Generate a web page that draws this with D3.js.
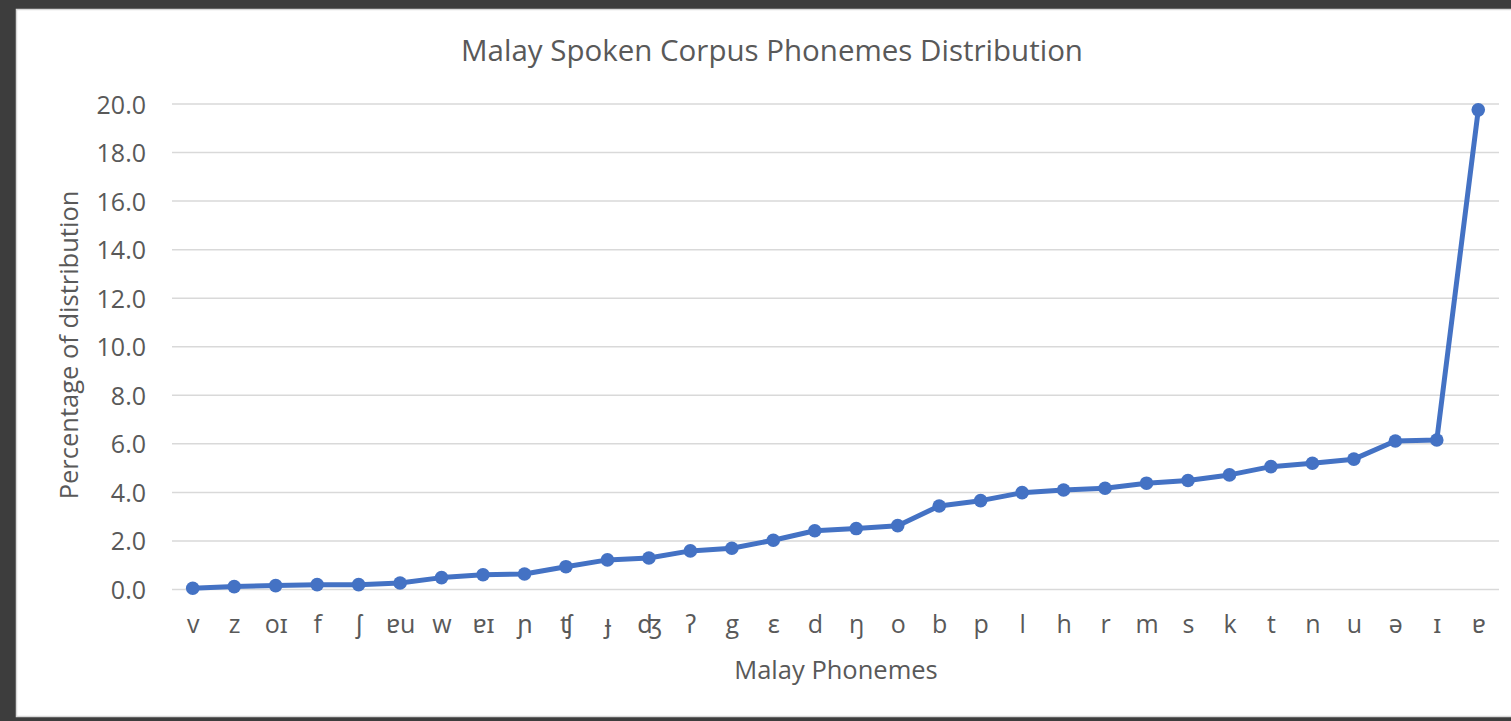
<!DOCTYPE html>
<html>
<head>
<meta charset="utf-8">
<script src="https://cdn.jsdelivr.net/npm/d3@7"></script>
<style>
  body { margin: 0; background: #3d3d3d; }
  svg { display: block; }
  .axis text { font-family: 'Open Sans', 'Noto Sans', sans-serif; fill: #595959; }
</style>
</head>
<body>
<div id="chart"></div>
<script>
/* chart data */
const phonemes = ['v', 'z', 'oɪ', 'f', 'ʃ', 'ɐu', 'w', 'ɐɪ', 'ɲ', 'ʧ', 'ɟ', 'ʤ', 'ʔ', 'g', 'ɛ', 'd', 'ŋ', 'o', 'b', 'p', 'l', 'h', 'r', 'm', 's', 'k', 't', 'n', 'u', 'ə', 'ɪ', 'ɐ']
const percentages = [0.05, 0.12, 0.16, 0.2, 0.2, 0.27, 0.49, 0.61, 0.64, 0.94, 1.22, 1.3, 1.59, 1.7, 2.03, 2.42, 2.51, 2.63, 3.44, 3.66, 3.99, 4.1, 4.17, 4.38, 4.49, 4.72, 5.06, 5.2, 5.37, 6.12, 6.16, 19.76]
const yTicks = [0, 2, 4, 6, 8, 10, 12, 14, 16, 18, 20]

/* labels */
const chartTitle = 'Malay Spoken Corpus Phonemes Distribution'
const xTitle = 'Malay Phonemes'
const yTitle = 'Percentage of distribution'

/* dimensions */
const W = 1511
const H = 721
const plot = { left: 172, right: 1499, top: 104, bottom: 589.5 }
const lineColor = '#4472c4'
const gridColor = '#d9d9d9'
const fontFam = "'Open Sans', 'Noto Sans', sans-serif"

const data = phonemes.map((p, i) => ({ p, v: percentages[i] }))

const svg = d3.select('#chart')
  .append('svg')
  .attr('width', W)
  .attr('height', H)

/* white chart area with thin border */
svg.append('rect')
  .attr('x', 16.5)
  .attr('y', 9.5)
  .attr('width', W)
  .attr('height', 707)
  .attr('fill', '#fff')
  .attr('stroke', gridColor)
  .attr('stroke-width', 1.5)

/* scales */
const xScale = d3.scalePoint()
  .domain(phonemes)
  .range([plot.left, plot.right])
  .padding(0.5)

const yScale = d3.scaleLinear()
  .domain([0, 20])
  .range([plot.bottom, plot.top])

/* gridlines */
svg.append('g')
  .selectAll('line')
  .data(yTicks)
  .join('line')
  .attr('x1', plot.left)
  .attr('x2', plot.right)
  .attr('y1', (d) => yScale(d))
  .attr('y2', (d) => yScale(d))
  .attr('stroke', gridColor)
  .attr('stroke-width', 1.5)

/* y axis */
svg.append('g')
  .attr('class', 'axis')
  .attr('transform', `translate(${plot.left - 26}, 0)`)
  .call(d3.axisLeft(yScale).tickValues(yTicks).tickFormat(d3.format('.1f')).tickSize(0).tickPadding(0))
  .call((g) => g.select('.domain').remove())
  .selectAll('text')
  .style('font-size', '25px')
  .attr('dy', '0.36em')

/* x axis */
svg.append('g')
  .attr('class', 'axis')
  .attr('transform', `translate(0, ${plot.bottom + 21})`)
  .call(d3.axisBottom(xScale).tickSize(0).tickPadding(0))
  .call((g) => g.select('.domain').remove())
  .selectAll('text')
  .style('font-size', '25px')
  .attr('dy', '0.9em')

/* line + markers */
const line = d3.line()
  .x((d) => xScale(d.p))
  .y((d) => yScale(d.v))

svg.append('path')
  .datum(data)
  .attr('d', line)
  .attr('fill', 'none')
  .attr('stroke', lineColor)
  .attr('stroke-width', 5)
  .attr('stroke-linejoin', 'round')

svg.append('g')
  .selectAll('circle')
  .data(data)
  .join('circle')
  .attr('cx', (d) => xScale(d.p))
  .attr('cy', (d) => yScale(d.v))
  .attr('r', 6.8)
  .attr('fill', lineColor)

/* title */
svg.append('text')
  .attr('x', 772)
  .attr('y', 61)
  .attr('text-anchor', 'middle')
  .style('font-family', fontFam)
  .style('font-size', '29.5px')
  .attr('fill', '#595959')
  .text(chartTitle)

/* axis titles */
svg.append('text')
  .attr('x', 836)
  .attr('y', 679)
  .attr('text-anchor', 'middle')
  .style('font-family', fontFam)
  .style('font-size', '25.5px')
  .attr('fill', '#595959')
  .text(xTitle)

svg.append('text')
  .attr('transform', `translate(78, 345) rotate(-90)`)
  .attr('text-anchor', 'middle')
  .style('font-family', fontFam)
  .style('font-size', '25.5px')
  .attr('fill', '#595959')
  .text(yTitle)
</script>
</body>
</html>
